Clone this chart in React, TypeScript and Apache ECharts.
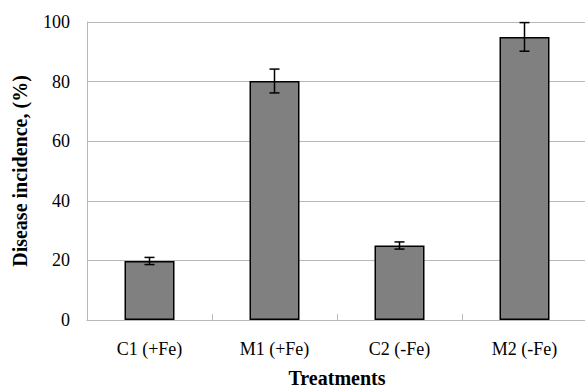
import React, { useEffect, useRef } from "react";
import * as echarts from "echarts";

const categories = ["C1 (+Fe)", "M1 (+Fe)", "C2 (-Fe)", "M2 (-Fe)"];
const values = [19.8, 80.2, 25.0, 95.0];
const errors = [1.2, 4.0, 1.2, 4.8];
const yTicks = [0, 20, 40, 60, 80, 100];

export default function App() {
  const ref = useRef<HTMLDivElement>(null);
  useEffect(() => {
    document.body.style.margin = "0";
    const chart = echarts.init(ref.current!, null, { renderer: "svg" });
    const serif = "Liberation Serif";
    chart.setOption({
      animation: false,
      backgroundColor: "#fff",
      grid: { left: 87, top: 22, width: 500, height: 298, containLabel: false, outerBoundsMode: "none" },
      xAxis: {
        type: "category",
        data: categories,
        name: "Treatments",
        nameLocation: "middle",
        nameGap: 48,
        nameTextStyle: { fontFamily: serif, fontSize: 20, fontWeight: "bold", color: "#000" },
        axisLine: { lineStyle: { color: "#b8b8b8", width: 1 } },
        axisTick: { show: true, inside: true, length: 6, lineStyle: { color: "#b8b8b8" } },
        axisLabel: { fontFamily: serif, fontSize: 18, color: "#000", margin: 20 },
      },
      yAxis: {
        type: "value",
        min: 0,
        max: 100,
        interval: 20,
        name: "Disease incidence, (%)",
        nameLocation: "middle",
        nameGap: 57,
        nameRotate: 90,
        nameTextStyle: { fontFamily: serif, fontSize: 20, fontWeight: "bold", color: "#000" },
        axisLine: { show: true, lineStyle: { color: "#b8b8b8", width: 1 } },
        axisTick: { show: false },
        axisLabel: {
          fontFamily: serif,
          fontSize: 18,
          color: "#000",
          margin: 17,
          formatter: (v: number) => (yTicks.includes(v) ? String(v) : ""),
        },
        splitLine: { lineStyle: { color: "#b8b8b8", width: 1 } },
      },
      series: [
        {
          type: "bar",
          data: values,
          barWidth: 50,
          itemStyle: { color: "#808080", borderColor: "#000", borderWidth: 1.5 },
        },
        {
          type: "custom",
          data: values.map((v, i) => [i, v - errors[i], v + errors[i]]),
          renderItem: (params: any, api: any) => {
            const x = api.value(0);
            const lo = api.coord([x, api.value(1)]);
            const hi = api.coord([x, api.value(2)]);
            const hw = 5;
            const style = { stroke: "#000", lineWidth: 1.5 };
            return {
              type: "group",
              children: [
                { type: "line", shape: { x1: lo[0], y1: lo[1], x2: hi[0], y2: hi[1] }, style },
                { type: "line", shape: { x1: lo[0] - hw, y1: lo[1], x2: lo[0] + hw, y2: lo[1] }, style },
                { type: "line", shape: { x1: hi[0] - hw, y1: hi[1], x2: hi[0] + hw, y2: hi[1] }, style },
              ],
            };
          },
          z: 10,
        },
      ],
    });
    return () => chart.dispose();
  }, []);
  return <div ref={ref} style={{ width: 585, height: 389 }} />;
}
